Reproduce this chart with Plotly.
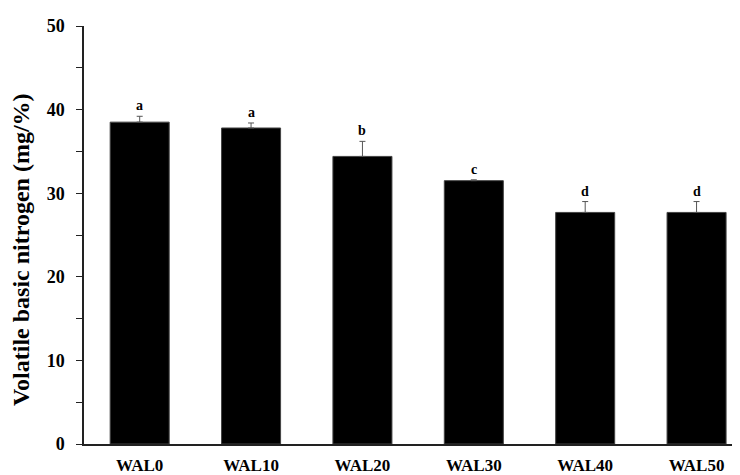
import plotly.graph_objects as go

categories = ["WAL0", "WAL10", "WAL20", "WAL30", "WAL40", "WAL50"]
means = [38.5, 37.8, 34.4, 31.5, 27.7, 27.7]
errors = [0.7, 0.6, 1.8, 0.1, 1.3, 1.3]
letters = ["a", "a", "b", "c", "d", "d"]
y_ticks = [0, 10, 20, 30, 40, 50]
y_title = "Volatile basic nitrogen (mg/%)"

FONT = "Liberation Serif"

fig = go.Figure()
fig.add_trace(go.Bar(
    x=categories, y=means, width=0.53,
    marker=dict(color="black", line=dict(color="#444444", width=1)),
    error_y=dict(type="data", symmetric=False, array=errors,
                 arrayminus=[0] * len(errors),
                 color="#555555", thickness=1, width=3),
    showlegend=False,
))

for c, m, e, l in zip(categories, means, errors, letters):
    fig.add_annotation(x=c, y=m + e, text=l, showarrow=False,
                       yanchor="bottom", yshift=1,
                       font=dict(family=FONT, size=14, color="black", weight="bold"))

fig.add_annotation(xref="paper", yref="paper", x=-0.096, y=0.464,
                   text=y_title, textangle=-90, showarrow=False,
                   xanchor="center", yanchor="middle",
                   font=dict(family=FONT, size=24, color="black", weight="bold"))

fig.update_layout(
    width=740, height=475, autosize=False,
    margin=dict(l=76, r=8, t=15, b=35),
    plot_bgcolor="white", paper_bgcolor="white",
)
fig.update_xaxes(
    range=[-0.5, 5.39], showline=True, linecolor="#222222", linewidth=1.5,
    ticks="", showgrid=False, zeroline=False, ticklabelstandoff=5,
    tickfont=dict(family=FONT, size=17, color="black", weight="bold"),
)
fig.update_yaxes(
    range=[0, 50], tickvals=y_ticks, showline=True, linecolor="#222222",
    linewidth=1.5, ticks="outside", ticklen=6, tickcolor="#222222",
    minor=dict(dtick=5, ticks="outside", ticklen=6, tickcolor="#222222"),
    showgrid=False, zeroline=False, ticklabelstandoff=8,
    tickfont=dict(family=FONT, size=18, color="black", weight="bold"),
)

fig.write_html("out.html")
